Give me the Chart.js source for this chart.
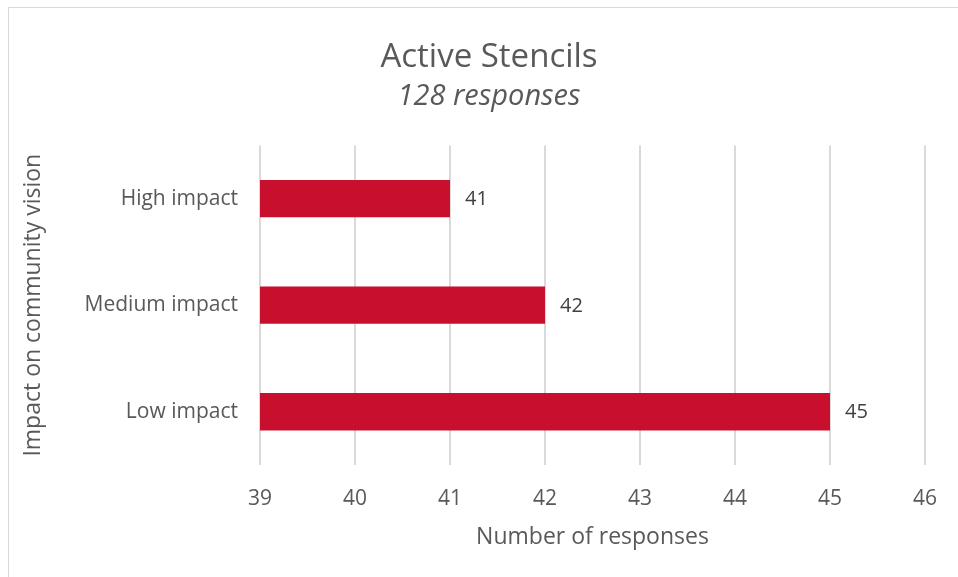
<!DOCTYPE html>
<html>
<head>
<meta charset="utf-8">
<script src="https://cdn.jsdelivr.net/npm/chart.js@4.4.1/dist/chart.umd.min.js"></script>
<style>
  html, body { margin: 0; padding: 0; background: #fff; }
  #wrap { position: relative; width: 958px; height: 577px; overflow: hidden; }
  #frame { position: absolute; left: 8px; top: 7px; width: 1000px; height: 700px;
           border-top: 1px solid #d9d9d9; border-left: 1px solid #d9d9d9; }
  canvas { position: absolute; left: 0; top: 0; }
</style>
</head>
<body>
<div id="wrap">
  <div id="frame"></div>
  <canvas id="grafico" width="958" height="577"></canvas>
</div>
<script>
const categorias = ['High impact', 'Medium impact', 'Low impact'];
const respuestas = [41, 42, 45];
const ejeMin = 39;
const ejeMax = 46;

const FONT = "'Open Sans', sans-serif";
const GRIS = '#595959';

// etiquetas de valor al final de cada barra
const etiquetas = {
  id: 'etiquetas',
  afterDatasetsDraw(chart) {
    const ctx = chart.ctx;
    const meta = chart.getDatasetMeta(0);
    ctx.save();
    ctx.font = '20px ' + FONT;
    ctx.fillStyle = '#404040';
    ctx.textAlign = 'left';
    ctx.textBaseline = 'middle';
    meta.data.forEach((bar, i) => {
      ctx.fillText(String(respuestas[i]), bar.x + 15, bar.y + 1);
    });
    ctx.restore();
  }
};

const ctx = document.getElementById('grafico').getContext('2d');
const chart = new Chart(ctx, {
  type: 'bar',
  data: {
    labels: categorias,
    datasets: [{
      data: respuestas,
      backgroundColor: '#c8102e',
      borderWidth: 0,
      categoryPercentage: 1,
      barPercentage: 0.35,
    }]
  },
  options: {
    indexAxis: 'y',
    responsive: false,
    animation: false,
    layout: { padding: { top: 38, right: 0, bottom: 26, left: 20 } },
    plugins: {
      legend: { display: false },
      tooltip: { enabled: false },
      title: {
        display: true,
        text: 'Active Stencils',
        color: GRIS,
        font: { family: FONT, size: 33, weight: 'normal' },
        padding: { top: 0, bottom: 2 }
      },
      subtitle: {
        display: true,
        text: '128 responses',
        color: GRIS,
        font: { family: FONT, size: 29, style: 'italic', weight: 'normal' },
        padding: { top: 0, bottom: 31 }
      }
    },
    scales: {
      x: {
        min: ejeMin,
        max: ejeMax,
        ticks: { stepSize: 1, color: GRIS, padding: 21, font: { family: FONT, size: 21 } },
        grid: { color: '#d9d9d9', lineWidth: 2, drawTicks: false },
        border: { display: false },
        title: {
          display: true,
          text: 'Number of responses',
          color: GRIS,
          font: { family: FONT, size: 23 },
          padding: { top: 0, bottom: 0 }
        },
        afterFit(scale) { scale.height = 86; }
      },
      y: {
        ticks: { color: GRIS, padding: 22, font: { family: FONT, size: 21 } },
        grid: { display: false, drawTicks: false },
        border: { display: false },
        title: {
          display: true,
          text: 'Impact on community vision',
          color: GRIS,
          font: { family: FONT, size: 23 },
          padding: { top: 0, bottom: 0 }
        },
        afterFit(scale) { scale.width = 240; }
      },
      // margen derecho vacío (el marco original sigue más allá de la imagen)
      derecha: {
        type: 'category',
        axis: 'y',
        position: 'right',
        ticks: { display: false },
        grid: { display: false, drawTicks: false },
        border: { display: false },
        afterFit(scale) { scale.width = 28; }
      }
    }
  },
  plugins: [etiquetas]
});
</script>
</body>
</html>
